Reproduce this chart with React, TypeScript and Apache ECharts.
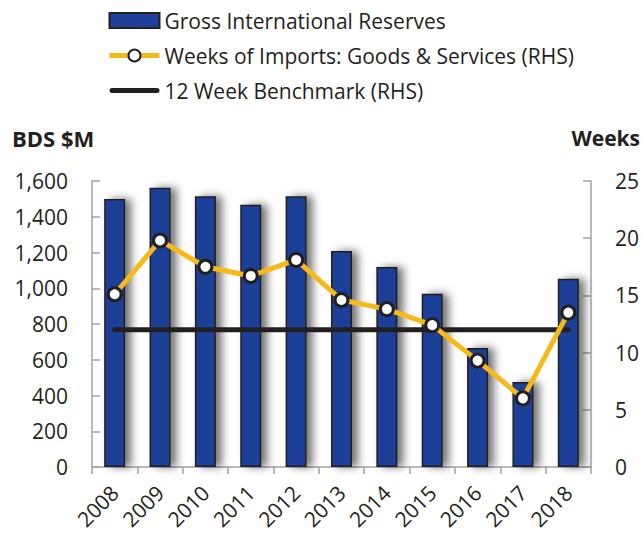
import React, { useEffect, useRef } from "react";
import * as echarts from "echarts";

const years = ["2008", "2009", "2010", "2011", "2012", "2013", "2014", "2015", "2016", "2017", "2018"];
const reserves = [1500, 1562, 1515, 1467, 1515, 1208, 1119, 969, 666, 475, 1053];
const weeksOfImports = [15.1, 19.8, 17.5, 16.7, 18.1, 14.6, 13.8, 12.4, 9.3, 6.0, 13.5];
const benchmark = [12, 12, 12, 12, 12, 12, 12, 12, 12, 12, 12];

const FONT = "Open Sans";
const TEXT = "#231F20";
const AXIS = "#A3A3A3";
const FS = 21;

export default function App() {
  const ref = useRef<HTMLDivElement>(null);
  useEffect(() => {
    document.body.style.margin = "0";
    const chart = echarts.init(ref.current!, undefined, { renderer: "svg" });
    chart.setOption({
      animation: false,
      textStyle: { fontFamily: FONT, color: TEXT },
      legend: {
        orient: "vertical",
        left: 102,
        top: 5,
        itemWidth: 50,
        itemHeight: 15,
        itemGap: 14,
        lineStyle: { width: 5 },
        textStyle: { fontSize: FS, color: TEXT, fontFamily: FONT },
        data: [
          { name: "Gross International Reserves", icon: "rect" },
          { name: "Weeks of Imports: Goods & Services (RHS)" },
          {
            name: "12 Week Benchmark (RHS)",
            icon: "path://M0,0 M2.5,5 L47.5,5 A2.5,2.5 0 0 1 47.5,10 L2.5,10 A2.5,2.5 0 0 1 2.5,5 Z M50,15",
          },
        ],
      },
      grid: { left: 92, right: 51, top: 181, bottom: 68 },
      xAxis: {
        type: "category",
        data: years,
        axisLine: { lineStyle: { color: AXIS, width: 1.5 } },
        axisTick: { show: true, length: 7, lineStyle: { color: AXIS, width: 1.5 } },
        axisLabel: { rotate: 45, fontSize: FS, color: TEXT, margin: 22, fontFamily: FONT },
      },
      yAxis: [
        {
          type: "value",
          min: 0,
          max: 1600,
          interval: 200,
          splitLine: { show: false },
          axisLine: { show: true, lineStyle: { color: AXIS, width: 1.5 } },
          axisTick: { show: true, inside: true, length: 8, lineStyle: { color: AXIS, width: 1.5 } },
          axisLabel: {
            fontSize: FS,
            color: TEXT,
            margin: 24,
            fontFamily: FONT,
            formatter: (v: number) => v.toLocaleString("en-US"),
          },
        },
        {
          type: "value",
          min: 0,
          max: 25,
          interval: 5,
          position: "right",
          splitLine: { show: false },
          axisLine: { show: true, lineStyle: { color: AXIS, width: 1.5 } },
          axisTick: { show: true, inside: true, length: 8, lineStyle: { color: AXIS, width: 1.5 } },
          axisLabel: { fontSize: FS, color: TEXT, margin: 24, fontFamily: FONT },
        },
      ],
      graphic: [
        {
          type: "text",
          left: 12,
          top: 127,
          style: { text: "BDS $M", font: `bold 22px "${FONT}"`, fill: TEXT },
        },
        {
          type: "text",
          right: 2,
          top: 127,
          style: { text: "Weeks", font: `bold 21px "${FONT}"`, fill: TEXT },
        },
      ],
      series: [
        {
          name: "Gross International Reserves",
          type: "bar",
          data: reserves,
          barWidth: 21,
          z: 1,
          itemStyle: {
            color: "#1F3F98",
            borderColor: TEXT,
            borderWidth: 1.5,
            shadowColor: "rgba(0,0,0,0.55)",
            shadowBlur: 8,
            shadowOffsetX: 6,
            shadowOffsetY: 0,
          },
        },
        {
          name: "12 Week Benchmark (RHS)",
          type: "line",
          yAxisIndex: 1,
          data: benchmark,
          symbol: "none",
          z: 3,
          lineStyle: { color: TEXT, width: 5, cap: "round" },
          itemStyle: { color: TEXT },
        },
        {
          name: "Weeks of Imports: Goods & Services (RHS)",
          type: "line",
          yAxisIndex: 1,
          data: weeksOfImports,
          symbol: "circle",
          symbolSize: 13,
          z: 4,
          lineStyle: { color: "#F6B919", width: 5 },
          itemStyle: { color: "#FFFFFF", borderColor: TEXT, borderWidth: 3 },
        },
      ],
    });
    return () => chart.dispose();
  }, []);
  return <div ref={ref} style={{ width: 642, height: 535 }} />;
}
